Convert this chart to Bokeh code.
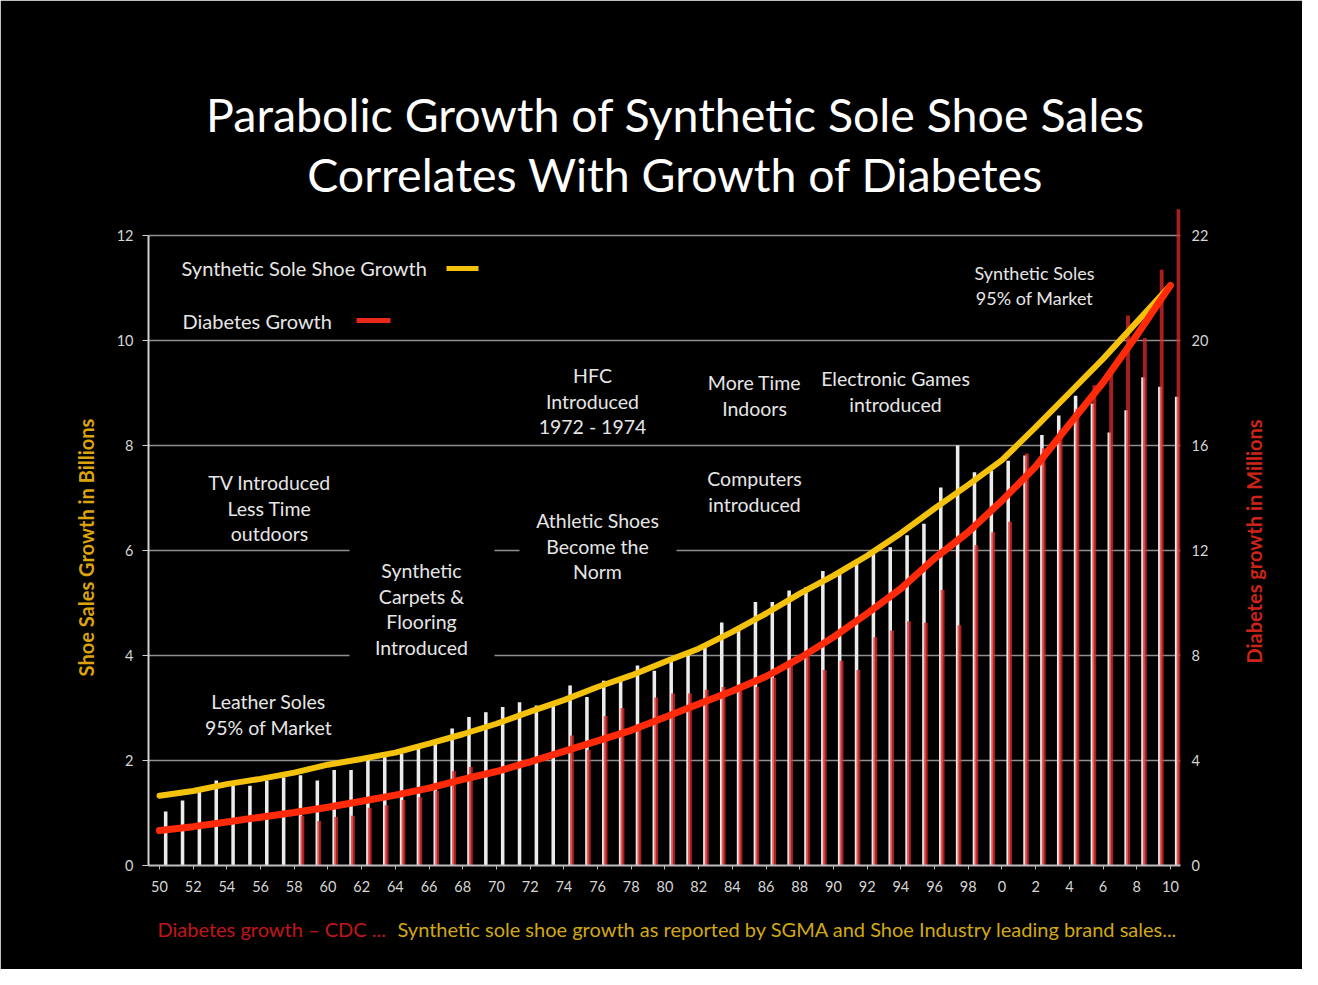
import math
import numpy as np
from bokeh.plotting import figure
from bokeh.models import ColumnDataSource, Range1d, LinearAxis, FixedTicker, Label, BoxAnnotation
from bokeh.transform import dodge
from bokeh.embed import file_html
from bokeh.resources import INLINE

# ---------------- data ----------------
years = list(range(1950, 2011))

x_tick_years = list(range(1950, 2011, 2))
x_tick_labels = ["50", "52", "54", "56", "58", "60", "62", "64", "66", "68",
                 "70", "72", "74", "76", "78", "80", "82", "84", "86", "88",
                 "90", "92", "94", "96", "98", "0", "2", "4", "6", "8", "10"]

# synthetic sole shoe sales, billions (left axis)
shoe_sales = [1.03, 1.24, 1.42, 1.62, 1.57, 1.52, 1.62, 1.68, 1.72, 1.62,
              1.82, 1.82, 2.01, 2.10, 2.13, 2.24, 2.34, 2.61, 2.83, 2.92,
              3.02, 3.11, 3.05, 3.05, 3.43, 3.21, 3.52, 3.59, 3.81, 3.71,
              3.97, 4.00, 4.16, 4.63, 4.55, 5.02, 5.02, 5.24, 5.30, 5.61,
              5.56, 5.75, 5.94, 6.06, 6.29, 6.51, 7.20, 8.00, 7.49, 7.52,
              7.71, 7.81, 8.20, 8.57, 8.95, 8.80, 8.25, 8.67, 9.30, 9.12,
              8.93]

# diagnosed diabetes, millions (right axis); None = no bar visible
diabetes = [None, None, None, None, None, None, None, None, 1.90, 1.70,
            1.85, 1.90, 2.20, 2.30, 2.50, 2.60, 2.85, 3.60, 3.75, None,
            None, None, None, None, 4.95, 4.40, 5.70, 6.00, 5.30, 6.40,
            6.55, 6.55, 6.70, 6.80, 6.65, 6.80, 7.15, 7.70, 7.95, 7.45,
            7.80, 7.45, 8.70, 8.95, 9.30, 9.25, 10.50, 9.15, 12.20, 12.70,
            13.10, 15.70, 15.90, 16.60, 17.40, 18.30, 18.90, 20.95, 20.10, 22.70,
            25.00]

# trend curves, read every second year
trend_years = list(range(1950, 2011, 2))
shoe_trend = [1.33, 1.42, 1.55, 1.65, 1.77, 1.92, 2.03, 2.15, 2.32, 2.50,
              2.70, 2.93, 3.15, 3.40, 3.62, 3.88, 4.13, 4.45, 4.80, 5.18,
              5.52, 5.90, 6.33, 6.80, 7.25, 7.72, 8.35, 9.00, 9.65, 10.35,
              11.05]
diabetes_trend = [1.33, 1.48, 1.66, 1.84, 2.02, 2.22, 2.45, 2.68, 2.95, 3.28,
                  3.58, 3.95, 4.35, 4.75, 5.15, 5.65, 6.15, 6.65, 7.20, 7.90,
                  8.70, 9.60, 10.55, 11.70, 12.70, 13.90, 15.20, 16.80, 18.40, 20.20,
                  22.10]

left_ticks = [0, 2, 4, 6, 8, 10, 12]
right_ticks = [0, 4, 8, 12, 16, 20, 24]
right_tick_labels = ["0", "4", "8", "12", "16", "20", "22"]

title_lines = ["Parabolic Growth of Synthetic Sole Shoe Sales",
               "Correlates With Growth of Diabetes"]

# ---------------- layout helpers ----------------
FONT = "Lato"
W, H = 1302, 969
FRAME_LEFT, FRAME_RIGHT, FRAME_TOP, BASE = 148, 1180, 200, 865   # canvas px
X0 = 1949.35          # x range start (year)
PXY = 16.85           # pixels per year
X1 = X0 + (FRAME_RIGHT - FRAME_LEFT) / PXY
PXU = 52.5            # pixels per left-axis unit
Y_TOP = (BASE - FRAME_TOP) / PXU


def dx(px):
    return X0 + (px - FRAME_LEFT) / PXY


def dy(py):
    return (BASE - py) / PXU


source = ColumnDataSource(data=dict(
    year=years,
    shoe=shoe_sales,
    diab=np.array(diabetes, dtype=float),
))

p = figure(width=W, height=H, output_backend="svg", toolbar_location=None, tools="",
           x_range=Range1d(X0, X1), y_range=Range1d(0, Y_TOP),
           background_fill_color="black", border_fill_color="black",
           min_border_left=FRAME_LEFT, min_border_right=W - FRAME_RIGHT,
           min_border_top=FRAME_TOP, min_border_bottom=H - BASE)
p.outline_line_color = "black"
p.outline_line_alpha = 1.0
p.outline_line_width = 3
p.extra_y_ranges = {"right": Range1d(0, Y_TOP * 2)}

# grid
p.xgrid.visible = False
p.ygrid.ticker = FixedTicker(ticks=left_ticks)
p.ygrid.grid_line_color = "#8e8e8e"
p.ygrid.grid_line_width = 1.5

TICK_FONT = "14.5px"

# x axis
xa = p.xaxis[0]
xa.ticker = FixedTicker(ticks=x_tick_years)
xa.major_label_overrides = dict(zip(x_tick_years, x_tick_labels))
xa.axis_line_color = "#bdbdbd"
xa.axis_line_width = 2
xa.major_tick_line_color = "#bdbdbd"
xa.major_tick_out = 4
xa.major_tick_in = 0
xa.minor_tick_line_color = None
xa.major_label_text_color = "#d6d6d6"
xa.major_label_text_font = FONT
xa.major_label_text_font_size = TICK_FONT
xa.major_label_standoff = 11

# left axis
ya = p.yaxis[0]
ya.ticker = FixedTicker(ticks=left_ticks)
ya.bounds = (0, 12)
ya.axis_line_color = "#d0d0d0"
ya.axis_line_width = 2
ya.major_tick_line_color = "#d0d0d0"
ya.major_tick_out = 6
ya.major_tick_in = 0
ya.minor_tick_line_color = None
ya.major_label_text_color = "#d6d6d6"
ya.major_label_text_font = FONT
ya.major_label_text_font_size = TICK_FONT
ya.major_label_standoff = 9

# right axis
ra = LinearAxis(y_range_name="right", ticker=FixedTicker(ticks=right_ticks),
                major_label_overrides=dict(zip(right_ticks, right_tick_labels)),
                bounds=(0, 24),
                axis_line_color=None, major_tick_line_color=None,
                minor_tick_line_color=None, major_label_standoff=5,
                major_label_text_color="#d6d6d6", major_label_text_font=FONT,
                major_label_text_font_size=TICK_FONT)
p.add_layout(ra, "right")

# bars
p.vbar(x=dodge("year", 0.37, range=p.x_range), top="shoe", width=0.21, source=source,
       fill_color="#ececec", line_color=None)
p.vbar(x=dodge("year", 0.48, range=p.x_range), top="diab", width=0.23, source=source,
       y_range_name="right", fill_color="#e02a2a", fill_alpha=0.75, line_color=None)

# trend curves
p.line(trend_years, shoe_trend, line_width=6, line_color="#f4c20d", line_cap="round")
p.line(trend_years, diabetes_trend, y_range_name="right", line_width=7,
       line_color="#ff2a0a", line_cap="round")


def make_label(txt, px, py, size, color="#e6e6e6", align="center", bold=False, angle=0.0):
    return Label(x=dx(px), y=dy(py), text=txt, text_align=align,
                 text_baseline="middle", text_font=FONT,
                 text_font_size=f"{size}px", text_color=color,
                 text_font_style="bold" if bold else "normal", angle=angle)


def add_text(txt, px, py, size, place="center", **kw):
    p.add_layout(make_label(txt, px, py, size, **kw), place)


def add_box(l, r, t, b, color="black"):
    p.add_layout(BoxAnnotation(left=dx(l), right=dx(r), top=dy(t), bottom=dy(b),
                               fill_color=color, fill_alpha=1.0, line_color=None))


# masks behind annotations that interrupt gridlines
add_box(349, 494, 543, 667)
add_box(519, 676, 503, 588)

# title (outside the frame -> side panel so it is not clipped)
add_text(title_lines[0], 675, 113, 46.5, place="above", color="#ffffff")
add_text(title_lines[1], 675, 173, 46.5, place="above", color="#ffffff")

# axis titles (side panels, rotated to read bottom-to-top)
add_text("Shoe Sales Growth in Billions", 85, 547, 20, place="left",
         color="#dca40c", bold=True, angle=math.pi / 2)
add_text("Diabetes growth in Millions", 1253, 541, 20, place="right",
         color="#cc2418", bold=True, angle=math.pi / 2)

# legend
add_text("Synthetic Sole Shoe Growth", 181, 267, 20, align="left")
add_text("Diabetes Growth", 182, 320, 20, align="left")
add_box(446, 478, 265.5, 270.5, color="#f4c20d")
add_box(356, 390, 317.5, 322.5, color="#e8281a")

# annotations
notes = [
    (["TV Introduced", "Less Time", "outdoors"], 269, 482, 19.5),
    (["Leather Soles", "95% of Market"], 268, 701, 19.5),
    (["Synthetic", "Carpets &", "Flooring", "Introduced"], 421, 570, 19.5),
    (["Athletic Shoes", "Become the", "Norm"], 597, 520, 19.5),
    (["HFC", "Introduced", "1972 - 1974"], 592, 375, 19.5),
    (["More Time", "Indoors"], 754, 382, 19.5),
    (["Computers", "introduced"], 754, 478, 19.5),
    (["Electronic Games", "introduced"], 895, 378, 19.5),
    (["Synthetic Soles", "95% of Market"], 1034, 272, 18),
]
for lines, cx, y0, size in notes:
    step = 25.5 if size > 18.5 else 25
    for i, t in enumerate(lines):
        add_text(t, cx, y0 + i * step, size)

# footer (below the axis)
add_text("Diabetes growth \u2013 CDC ...", 157, 928, 20, place="below",
         color="#c0161b", align="left")
add_text("Synthetic sole shoe growth as reported by SGMA and Shoe Industry leading brand sales...",
         397, 928, 20, place="below", color="#d2a912", align="left")

open("out.html", "w").write(file_html(p, INLINE))
